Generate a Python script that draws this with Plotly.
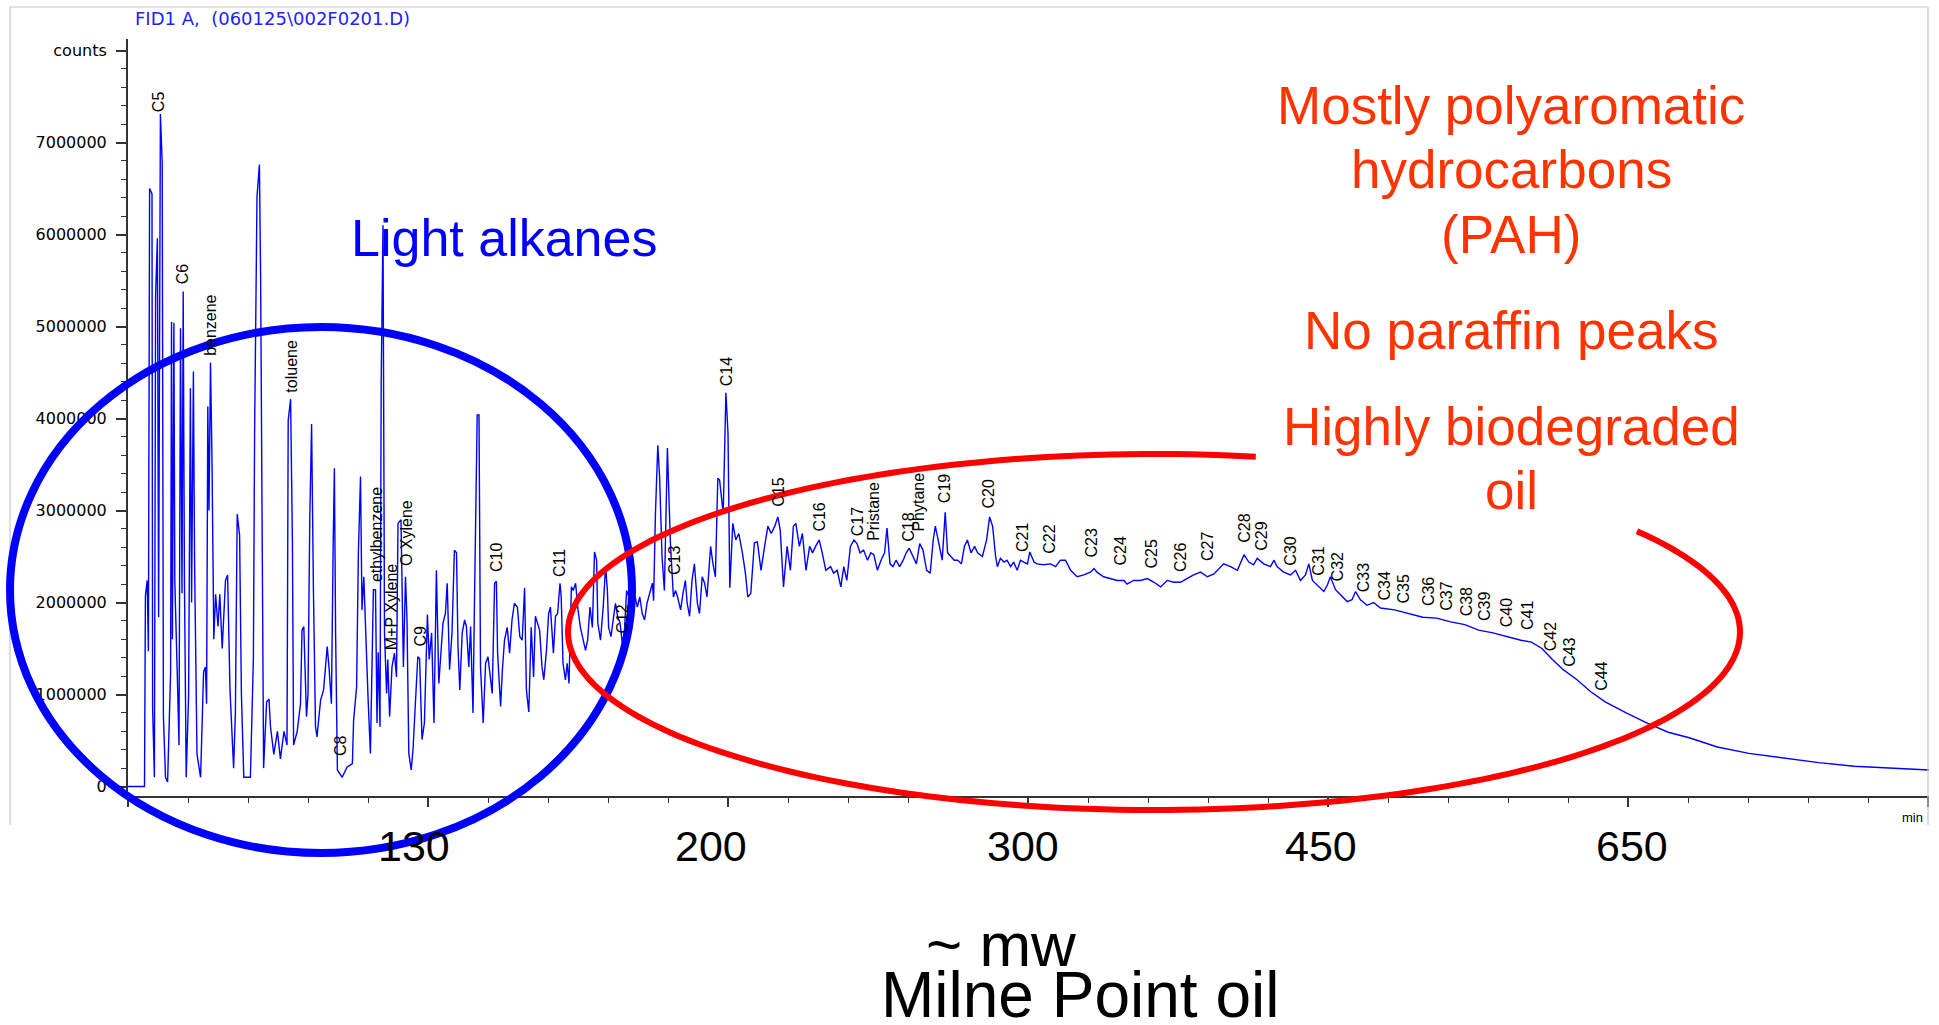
import numpy as np
import plotly.graph_objects as go

# ---------------- data ----------------
# retention time (min) and detector signal (millions of counts)
time_min = [
    0.0, 0.275, 0.29, 0.32, 0.34, 0.36, 0.40, 0.41, 0.44, 0.46, 0.49, 0.51, 0.54, 0.57, 0.59, 0.625, 0.66,
    0.71, 0.725, 0.74, 0.765, 0.78, 0.82, 0.85, 0.875, 0.90, 0.92, 0.94, 0.97, 1.01, 1.04, 1.06, 1.09, 1.11,
    1.15, 1.21, 1.26, 1.29, 1.31, 1.33, 1.35, 1.375, 1.40, 1.43, 1.46, 1.50, 1.53, 1.57, 1.625, 1.66, 1.70,
    1.76, 1.79, 1.82, 1.86, 1.89, 1.93, 2.04, 2.09, 2.11, 2.15, 2.19, 2.21, 2.24, 2.26, 2.31, 2.35, 2.375,
    2.43, 2.49, 2.54, 2.60, 2.65, 2.67, 2.71, 2.74, 2.76, 2.82, 2.875, 2.90, 2.93, 2.975, 3.00, 3.03, 3.06,
    3.09, 3.125, 3.15, 3.21, 3.26, 3.32, 3.35, 3.39, 3.42, 3.44, 3.46, 3.49, 3.57, 3.65, 3.74, 3.76, 3.81,
    3.84, 3.875, 3.90, 3.93, 3.96, 4.00, 4.04, 4.09, 4.125, 4.15, 4.17, 4.20, 4.22, 4.25, 4.275, 4.31, 4.33,
    4.36, 4.40, 4.44, 4.475, 4.50, 4.55, 4.59, 4.625, 4.65, 4.68, 4.72, 4.75, 4.79, 4.83, 4.86, 4.90, 4.94,
    4.99, 5.02, 5.06, 5.10, 5.14, 5.18, 5.22, 5.25, 5.29, 5.32, 5.36, 5.40, 5.44, 5.475, 5.50, 5.53, 5.57,
    5.61, 5.64, 5.68, 5.71, 5.75, 5.775, 5.82, 5.85, 5.875, 5.92, 5.96, 6.00, 6.04, 6.07, 6.11, 6.14, 6.16,
    6.21, 6.24, 6.275, 6.32, 6.36, 6.40, 6.44, 6.49, 6.53, 6.57, 6.61, 6.64, 6.68, 6.72, 6.76, 6.79, 6.82,
    6.86, 6.90, 6.93, 6.975, 7.01, 7.04, 7.09, 7.125, 7.16, 7.20, 7.22, 7.25, 7.29, 7.32, 7.35, 7.39, 7.42,
    7.46, 7.50, 7.54, 7.59, 7.625, 7.66, 7.70, 7.74, 7.775, 7.81, 7.83, 7.875, 7.92, 7.96, 7.99, 8.01, 8.05,
    8.10, 8.125, 8.16, 8.20, 8.24, 8.275, 8.31, 8.35, 8.39, 8.43, 8.49, 8.53, 8.57, 8.61, 8.65, 8.70, 8.74,
    8.76, 8.79, 8.83, 8.86, 8.90, 8.94, 8.99, 9.01, 9.04, 9.09, 9.125, 9.16, 9.21, 9.25, 9.29, 9.32, 9.36,
    9.40, 9.44, 9.49, 9.525, 9.57, 9.61, 9.65, 9.71, 9.75, 9.79, 9.83, 9.86, 9.92, 9.965, 10.0, 10.03, 10.08,
    10.13, 10.18, 10.24, 10.29, 10.33, 10.38, 10.44, 10.49, 10.55, 10.61, 10.665, 10.72, 10.78, 10.83, 10.87,
    10.925, 10.985, 11.04, 11.09, 11.13, 11.19, 11.24, 11.30, 11.36, 11.41, 11.46, 11.52, 11.57, 11.63, 11.71,
    11.76, 11.82, 11.88, 11.93, 11.98, 12.04, 12.10, 12.15, 12.20, 12.26, 12.325, 12.38, 12.43, 12.49, 12.55,
    12.61, 12.65, 12.70, 12.75, 12.80, 12.86, 12.92, 12.97, 13.02, 13.08, 13.14, 13.195, 13.25, 13.31, 13.37,
    13.42, 13.455, 13.515, 13.57, 13.62, 13.66, 13.715, 13.77, 13.83, 13.89, 13.94, 13.99, 14.05, 14.11, 14.16,
    14.24, 14.31, 14.36, 14.41, 14.46, 14.49, 14.54, 14.60, 14.65, 14.71, 14.76, 14.82, 14.875, 14.93, 14.99,
    15.03, 15.10, 15.15, 15.26, 15.375, 15.46, 15.54, 15.625, 15.71, 15.82, 15.93, 16.04, 16.10, 16.15, 16.26,
    16.375, 16.49, 16.60, 16.65, 16.76, 16.875, 16.99, 17.10, 17.21, 17.32, 17.43, 17.54, 17.65, 17.76, 17.875,
    17.99, 18.10, 18.21, 18.26, 18.375, 18.49, 18.60, 18.68, 18.76, 18.82, 18.93, 19.04, 19.10, 19.15, 19.26,
    19.375, 19.46, 19.54, 19.625, 19.68, 19.74, 19.82, 19.93, 19.99, 20.04, 20.125, 20.21, 20.32, 20.40, 20.46,
    20.54, 20.65, 20.76, 20.875, 21.11, 21.34, 21.58, 21.81, 22.045, 22.28, 22.51, 22.75, 22.98, 23.215, 23.39,
    23.565, 23.74, 23.92, 24.15, 24.38, 24.62, 24.97, 25.32, 25.67, 26.02, 26.49, 27.015, 27.6, 28.18, 28.77,
    29.355, 29.88, 30.02,
]
signal_mcounts = [
    0.0, 0.0, 2.07, 2.24, 1.47, 6.5, 6.44, 0.86, 0.1, 5.33, 5.96, 1.84, 7.31, 6.78, 0.77, 0.1, 0.05,
    1.24, 5.05, 1.6, 5.04, 2.24, 1.25, 0.45, 4.98, 2.1, 5.38, 2.3, 0.1, 0.99, 4.33, 2.0, 4.51, 2.42,
    0.35, 0.1, 1.25, 1.3, 0.9, 4.13, 3.0, 4.61, 3.54, 1.6, 2.09, 1.74, 2.09, 1.5, 2.24, 2.3, 1.05,
    0.2, 0.8, 2.96, 2.73, 1.0, 0.1, 0.1, 1.4, 3.84, 6.41, 6.76, 5.56, 1.74, 0.2, 0.92, 0.95, 0.65,
    0.35, 0.6, 0.3, 0.6, 0.45, 3.98, 4.21, 2.67, 0.45, 0.6, 0.9, 1.7, 1.74, 0.76, 1.0, 2.92, 3.94,
    2.15, 0.65, 0.54, 0.94, 1.05, 1.52, 1.3, 0.9, 2.65, 3.46, 1.67, 0.18, 0.1, 0.21, 0.25, 0.72, 1.08,
    2.55, 3.37, 1.92, 2.28, 1.67, 0.98, 0.36, 2.14, 2.14, 0.69, 1.46, 0.65, 4.4, 6.1, 1.67, 1.01, 1.38,
    0.76, 1.3, 1.45, 1.19, 2.86, 2.9, 1.3, 2.28, 1.81, 0.36, 0.18, 0.4, 0.87, 1.41, 1.39, 0.51, 0.69,
    1.87, 1.38, 1.67, 0.69, 2.35, 1.12, 1.45, 1.78, 1.88, 2.21, 1.27, 1.67, 2.57, 2.54, 1.52, 1.05, 1.67,
    1.81, 1.74, 1.3, 1.74, 0.8, 2.03, 4.04, 4.04, 1.3, 0.69, 1.34, 1.41, 1.16, 1.01, 2.21, 2.23, 1.45,
    0.87, 1.27, 1.59, 1.73, 1.45, 1.81, 1.99, 1.95, 1.63, 1.59, 2.16, 1.05, 0.81, 1.73, 1.19, 1.85, 1.78,
    1.7, 1.3, 1.16, 1.48, 1.88, 1.95, 1.45, 1.85, 1.88, 2.21, 2.06, 1.34, 1.16, 1.34, 1.12, 2.17, 2.13,
    2.21, 1.92, 1.73, 1.59, 1.48, 1.59, 1.95, 1.73, 2.55, 2.46, 1.78, 1.59, 1.95, 2.39, 2.13, 1.73, 1.63,
    1.88, 1.99, 1.85, 1.78, 1.55, 1.7, 2.13, 2.06, 1.92, 2.13, 1.95, 2.06, 1.88, 1.81, 1.99, 2.13, 2.21,
    2.02, 2.95, 3.71, 3.37, 2.5, 2.13, 3.68, 3.3, 2.65, 2.06, 2.13, 2.06, 1.92, 2.1, 2.24, 1.99, 1.85,
    2.24, 2.42, 1.99, 1.88, 2.28, 2.21, 2.06, 2.61, 2.42, 2.28, 3.35, 3.33, 2.97, 4.28, 3.84, 2.16, 2.86,
    2.68, 2.75, 2.54, 2.32, 2.06, 2.1, 2.65, 2.66, 2.35, 2.61, 2.83, 2.75, 2.83, 2.93, 2.79,
    2.17, 2.61, 2.35, 2.83, 2.86, 2.61, 2.75, 2.35, 2.61, 2.54, 2.61, 2.68, 2.54, 2.35, 2.39,
    2.32, 2.35, 2.17, 2.39, 2.24, 2.61, 2.68, 2.64, 2.54, 2.57, 2.46, 2.54, 2.52, 2.35, 2.46,
    2.54, 2.81, 2.42, 2.39, 2.46, 2.39, 2.46, 2.54, 2.59, 2.5, 2.42, 2.64, 2.57, 2.35, 2.32,
    2.68, 2.83, 2.64, 2.46, 2.98, 2.54, 2.5, 2.46, 2.46, 2.42, 2.61, 2.68, 2.54, 2.61, 2.54,
    2.5, 2.68, 2.93, 2.83, 2.5, 2.39, 2.48, 2.44, 2.46, 2.39, 2.44, 2.35, 2.46, 2.44, 2.42,
    2.55, 2.44, 2.42, 2.41, 2.42, 2.39, 2.46, 2.46, 2.35, 2.28, 2.30, 2.33, 2.37, 2.33, 2.28,
    2.26, 2.24, 2.24, 2.2, 2.24, 2.24, 2.26, 2.22, 2.17, 2.24, 2.22, 2.22, 2.26, 2.30, 2.33,
    2.28, 2.31, 2.39, 2.42, 2.39, 2.35, 2.52, 2.44, 2.41, 2.48, 2.42, 2.39, 2.46, 2.39, 2.33,
    2.30, 2.35, 2.24, 2.30, 2.42, 2.24, 2.19, 2.12, 2.19, 2.28, 2.14, 2.08, 2.01, 2.03, 2.12,
    2.03, 1.97, 2.0, 1.94, 1.92, 1.88, 1.84, 1.83, 1.79, 1.76, 1.70, 1.67, 1.63, 1.59, 1.57,
    1.5, 1.38, 1.27, 1.16, 1.03, 0.92, 0.8, 0.69, 0.59, 0.53, 0.43, 0.36, 0.31, 0.26, 0.22,
    0.2, 0.18, 0.18,
]

# peak identifications: name, retention time of label, signal level at label foot
peak_names = ["C5", "C6", "benzene", "toluene", "C8", "ethylbenzene", "M+P Xylene", "O Xylene", "C9",
              "C10", "C11", "C12", "C13", "C14", "C15", "C16", "C17", "Pristane", "C18", "Phytane",
              "C19", "C20", "C21", "C22", "C23", "C24", "C25", "C26", "C27", "C28", "C29", "C30",
              "C31", "C32", "C33", "C34", "C35", "C36", "C37", "C38", "C39", "C40", "C41", "C42",
              "C43", "C44"]
peak_t = [0.51, 0.91, 1.375, 2.725, 3.54, 4.14, 4.39, 4.64, 4.875,
          6.14, 7.19, 8.24, 9.11, 9.975, 10.84, 11.525, 12.16, 12.425, 13.01, 13.175,
          13.61, 14.34, 14.91, 15.36, 16.06, 16.54, 17.06, 17.54, 17.99, 18.61, 18.89, 19.375,
          19.84, 20.16, 20.59, 20.94, 21.26, 21.675, 21.975, 22.31, 22.61, 22.975, 23.325, 23.71,
          24.025, 24.56]
peak_v = [7.32, 5.45, 4.67, 4.27, 0.32, 2.21, 1.47, 2.39, 1.51,
          2.32, 2.27, 1.65, 2.29, 4.34, 3.03, 2.76, 2.71, 2.66, 2.65, 2.76,
          3.07, 3.01, 2.54, 2.52, 2.48, 2.39, 2.36, 2.32, 2.44, 2.64, 2.55, 2.39,
          2.28, 2.22, 2.10, 2.01, 1.98, 1.95, 1.90, 1.84, 1.79, 1.72, 1.69, 1.46,
          1.29, 1.03]

y_tick_vals = [0, 1, 2, 3, 4, 5, 6, 7, 8]
y_tick_text = ["0", "1000000", "2000000", "3000000", "4000000", "5000000", "6000000", "7000000", "counts"]
x_major_ticks = [0, 5, 10, 15, 20, 25, 30]

mw_labels = ["130", "200", "300", "450", "650"]
mw_t = [4.77, 9.72, 14.92, 19.88, 25.07]

pah_lines = ["Mostly polyaromatic", "hydrocarbons", "(PAH)", "No paraffin peaks", "Highly biodegraded", "oil"]

# ---------------- layout geometry (pixels) ----------------
W, H = 1939, 1025
ML, MR, MT, MB = 128, 10, 39, 229
PW, PH = W - ML - MR, H - MT - MB

def px(x):
    return (x - ML) / PW

def py(y):
    return (H - MB - y) / PH

FONT = "Liberation Sans, Arial, sans-serif"
WIDEFONT = "DejaVu Sans, Verdana, sans-serif"
BLUE = "#0000ff"
ORANGE = "#ff3300"

fig = go.Figure()
fig.add_trace(go.Scatter(x=time_min, y=signal_mcounts, mode="lines",
                         line=dict(color=BLUE, width=1.4), hoverinfo="skip", showlegend=False))

annotations = []
# peak labels (rotated)
for name, t, v in zip(peak_names, peak_t, peak_v):
    annotations.append(dict(x=t, y=v, xref="x", yref="y", text=name, showarrow=False,
                            textangle=-90, xanchor="center", yanchor="bottom", borderpad=0,
                            font=dict(family=FONT, size=16, color="black")))
# file header
annotations.append(dict(x=px(133), y=py(19), xref="paper", yref="paper", text="FID1 A,  (060125\\002F0201.D)",
                        showarrow=False, xanchor="left", yanchor="middle",
                        font=dict(family=WIDEFONT, size=18, color="#2222ff")))
annotations.append(dict(x=px(1900), y=py(817), xref="paper", yref="paper", text="min",
                        showarrow=False, xanchor="left", yanchor="middle",
                        font=dict(family=FONT, size=13, color="black")))
# molecular weight labels
for lab, t in zip(mw_labels, mw_t):
    annotations.append(dict(x=t, y=py(846), xref="x", yref="paper", text=lab, showarrow=False,
                            xanchor="center", yanchor="middle",
                            font=dict(family=FONT, size=43, color="black")))
annotations.append(dict(x=px(1001), y=py(945), xref="paper", yref="paper", text="~ mw", showarrow=False,
                        xanchor="center", yanchor="middle", font=dict(family=FONT, size=62, color="black")))
annotations.append(dict(x=px(1080), y=py(995), xref="paper", yref="paper", text="Milne Point oil",
                        showarrow=False, xanchor="center", yanchor="middle",
                        font=dict(family=FONT, size=64, color="black")))
annotations.append(dict(x=px(504), y=py(238), xref="paper", yref="paper", text="Light alkanes",
                        showarrow=False, xanchor="center", yanchor="middle",
                        font=dict(family=FONT, size=52, color=BLUE)))
for line_txt, yy in zip(pah_lines, [106, 170, 234, 330, 427, 490]):
    annotations.append(dict(x=px(1511), y=py(yy), xref="paper", yref="paper", text=line_txt,
                            showarrow=False, xanchor="center", yanchor="middle",
                            font=dict(family=FONT, size=53, color=ORANGE)))

shapes = []
# gray frame of the original screenshot
frame = "M {:.5f},{:.5f} L {:.5f},{:.5f} L {:.5f},{:.5f} L {:.5f},{:.5f}".format(
    px(10), py(825), px(10), py(7), px(1928), py(7), px(1928), py(825))
shapes.append(dict(type="path", xref="paper", yref="paper", path=frame,
                   line=dict(color="#c8c8c8", width=1.2)))
# blue ellipse
shapes.append(dict(type="circle", xref="paper", yref="paper", x0=px(10), x1=px(632), y0=py(853), y1=py(327),
                   line=dict(color=BLUE, width=8), layer="above"))
# red open ellipse
ang = np.radians(np.linspace(-34.5, 280, 200))
ex = 1154 + 586 * np.cos(ang)
ey = 632 + 178 * np.sin(ang)
red_path = "M " + " L ".join("{:.5f},{:.5f}".format(px(a), py(b)) for a, b in zip(ex, ey))
shapes.append(dict(type="path", xref="paper", yref="paper", path=red_path,
                   line=dict(color="#ff0000", width=6), layer="above"))

fig.update_layout(
    template="none",
    width=W, height=H,
    margin=dict(l=ML, r=MR, t=MT, b=MB, pad=0),
    paper_bgcolor="white", plot_bgcolor="white",
    showlegend=False,
    annotations=annotations,
    shapes=shapes,
    xaxis=dict(range=[0, PW / 60.0], showgrid=False, zeroline=False, automargin=False,
               showline=True, linecolor="#333333", linewidth=2,
               tickmode="array", tickvals=x_major_ticks, ticks="outside", ticklen=9,
               tickcolor="#333333", tickwidth=1.5, showticklabels=False,
               minor=dict(dtick=1, ticks="outside", ticklen=5, tickcolor="#333333", tickwidth=1.2, showgrid=False)),
    yaxis=dict(range=[-0.103, 8.125], showgrid=False, zeroline=False, automargin=False,
               showline=True, linecolor="#333333", linewidth=2,
               tickmode="array", tickvals=y_tick_vals, ticktext=y_tick_text,
               ticks="outside", ticklen=10, tickcolor="#333333", tickwidth=1.5,
               ticklabelstandoff=6,
               tickfont=dict(family=WIDEFONT, size=16, color="black"),
               minor=dict(dtick=0.2, ticks="outside", ticklen=5, tickcolor="#333333", tickwidth=1.2, showgrid=False)),
)

fig.write_html("out.html", config={"displayModeBar": False})
